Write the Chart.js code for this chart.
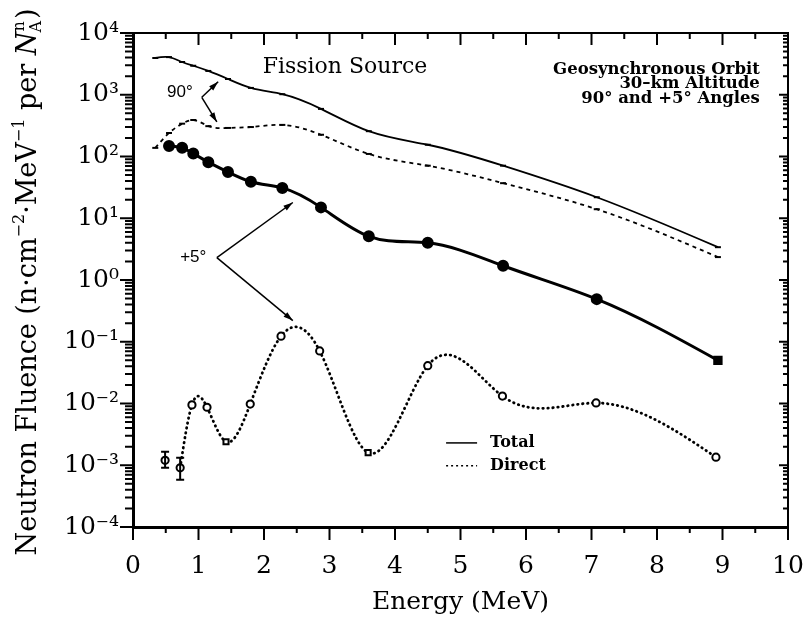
<!DOCTYPE html>
<html>
<head>
<meta charset="utf-8">
<script src="https://cdn.jsdelivr.net/npm/chart.js@4"></script>
<style>
  html, body { margin: 0; padding: 0; background: #fff; }
  canvas { display: block; }
</style>
</head>
<body>
<canvas id="chart" width="805" height="624"></canvas>
<script>
// 90° curves (thin): energy in MeV, fluence per MeV
const energy90 = [0.34, 0.55, 0.75, 0.92, 1.15, 1.45, 1.8, 2.28, 2.87, 3.6, 4.5, 5.65, 7.08, 8.93];
const total90 = [3940, 4070, 3390, 2950, 2430, 1800, 1290, 1020, 590, 257, 155, 71, 21.9, 3.4];
const direct90 = [138, 240, 340, 390, 310, 290, 300, 325, 225, 110, 71, 37, 14, 2.35];

// +5° total (thick, filled markers)
const energy5 = [0.55, 0.75, 0.92, 1.15, 1.45, 1.8, 2.28, 2.87, 3.6, 4.5, 5.65, 7.08, 8.93];
const total5 = [148, 138, 112, 81, 56, 39, 31, 15, 5.1, 4.0, 1.7, 0.49, 0.05];

// +5° direct (dotted, open markers) with error bars on the two lowest energies
const energy5d = [0.49, 0.72, 0.9, 1.13, 1.42, 1.79, 2.26, 2.85, 3.59, 4.5, 5.64, 7.07, 8.9];
const direct5 = [1.2e-3, 9.1e-4, 9.5e-3, 8.7e-3, 2.4e-3, 9.8e-3, 0.123, 0.071, 1.6e-3, 0.041, 0.0132, 0.0102, 1.35e-3];
const direct5Low = [9.1e-4, 5.8e-4, null, null, null, null, null, null, null, null, null, null, null];
const direct5High = [1.66e-3, 1.32e-3, null, null, null, null, null, null, null, null, null, null, null];

// axis tick positions
const xTickValues = [0, 0.5, 1, 1.5, 2, 2.5, 3, 3.5, 4, 4.5, 5, 5.5, 6, 6.5, 7, 7.5, 8, 8.5, 9, 9.5, 10];
const yTickValues = [1e-4, 1e-3, 1e-2, 1e-1, 1, 10, 100, 1e3, 1e4];
const yMinorSteps = [2, 3, 4, 5, 6, 7, 8, 9];
const supDigits = { '-': '⁻', '0': '⁰', '1': '¹', '2': '²', '3': '³', '4': '⁴', '5': '⁵', '6': '⁶', '7': '⁷', '8': '⁸', '9': '⁹' };

const SERIF = '"DejaVu Serif", "Liberation Serif", serif';
const SANS = '"Liberation Sans", Arial, sans-serif';

Chart.defaults.font.family = SERIF;
Chart.defaults.color = '#000';

const toXY = (xs, ys) => xs.map((x, i) => ({ x, y: ys[i] }));

// Text and arrows placed in data coordinates (energy, fluence)
const notes = [
  { text: 'Fission Source', x: 1.98, y: 2800, font: '22px ' + SERIF, align: 'left' },
  { text: 'Geosynchronous Orbit', x: 9.57, y: 2190, font: 'bold 16.5px ' + SERIF, align: 'right', base: 'alphabetic' },
  { text: '30–km Altitude', x: 9.57, y: 1290, font: 'bold 16.5px ' + SERIF, align: 'right', base: 'alphabetic' },
  { text: '90° and +5° Angles', x: 9.57, y: 740, font: 'bold 16.5px ' + SERIF, align: 'right', base: 'alphabetic' },
  { text: '90°', x: 0.52, y: 1100, font: '17px ' + SANS, align: 'left' },
  { text: '+5°', x: 0.72, y: 2.3, font: '17px ' + SANS, align: 'left' },
];
const arrows = [
  { from: [1.05, 910], to: [1.30, 1620] },
  { from: [1.05, 910], to: [1.28, 363] },
  { from: [1.28, 2.3], to: [2.44, 18] },
  { from: [1.28, 2.3], to: [2.44, 0.22] },
];
const legendRows = [
  { label: 'Total', x: 4.78, y: 2.3e-3, dash: [] },
  { label: 'Direct', x: 4.78, y: 9.8e-4, dash: [2, 3] },
];

// natural cubic spline through the points (pixel space), written into the
// bezier control points the line element draws with
const naturalSpline = {
  id: 'naturalSpline',
  beforeDatasetDraw(chart, args) {
    const ds = chart.data.datasets[args.index];
    if (ds.splineFrom === undefined) return;
    const pts = args.meta.data.slice(ds.splineFrom);
    const n = pts.length;
    if (n < 3) return;
    const xs = pts.map((p) => p.x);
    const ys = pts.map((p) => p.y);
    const h = [];
    for (let i = 0; i < n - 1; i++) h.push(xs[i + 1] - xs[i]);
    const lo = [], di = [], up = [], rhs = [];
    for (let i = 1; i < n - 1; i++) {
      lo.push(h[i - 1]);
      di.push(2 * (h[i - 1] + h[i]));
      up.push(h[i]);
      rhs.push(6 * ((ys[i + 1] - ys[i]) / h[i] - (ys[i] - ys[i - 1]) / h[i - 1]));
    }
    const m = di.length;
    for (let i = 1; i < m; i++) {
      const w = lo[i] / di[i - 1];
      di[i] -= w * up[i - 1];
      rhs[i] -= w * rhs[i - 1];
    }
    const M = new Array(n).fill(0);
    for (let i = m - 1; i >= 0; i--) {
      M[i + 1] = (rhs[i] - (i < m - 1 ? up[i] * M[i + 2] : 0)) / di[i];
    }
    pts.forEach((p, i) => {
      const s = i < n - 1
        ? (ys[i + 1] - ys[i]) / h[i] - h[i] * (2 * M[i] + M[i + 1]) / 6
        : (ys[i] - ys[i - 1]) / h[i - 1] + h[i - 1] * (M[i - 1] + 2 * M[i]) / 6;
      const hb = i > 0 ? h[i - 1] : 0;
      const ha = i < n - 1 ? h[i] : 0;
      p.cp1x = p.x - hb / 3;
      p.cp1y = p.y - (s * hb) / 3;
      p.cp2x = p.x + ha / 3;
      p.cp2y = p.y + (s * ha) / 3;
    });
    args.meta.dataset._pointsUpdated = true;
  },
};

// error bars on the +5° direct points and the frame tick marks
// (outward on bottom/left, inward on top/right), stroked as one path
const frameMarks = {
  id: 'frameMarks',
  afterDatasetsDraw(chart) {
    const { ctx, chartArea: a, scales: { x, y } } = chart;
    ctx.save();
    ctx.setLineDash([]);
    ctx.strokeStyle = '#000';
    ctx.lineWidth = 2;
    ctx.beginPath();
    energy5d.forEach((e, i) => {
      if (direct5Low[i] == null) return;
      const px = x.getPixelForValue(e);
      const y1 = y.getPixelForValue(direct5Low[i]);
      const y2 = y.getPixelForValue(direct5High[i]);
      ctx.moveTo(px, y1); ctx.lineTo(px, y2);
      ctx.moveTo(px - 4, y1); ctx.lineTo(px + 4, y1);
      ctx.moveTo(px - 4, y2); ctx.lineTo(px + 4, y2);
    });
    xTickValues.forEach((v) => {
      const px = x.getPixelForValue(v);
      const major = Number.isInteger(v);
      ctx.moveTo(px, a.bottom);
      ctx.lineTo(px, a.bottom + (major ? 13 : 6));
      ctx.moveTo(px, a.top);
      ctx.lineTo(px, a.top + (major ? 12 : 6));
    });
    yTickValues.forEach((d, k) => {
      const py = y.getPixelForValue(d);
      ctx.moveTo(a.left - 13, py);
      ctx.lineTo(a.left, py);
      ctx.moveTo(a.right - 9, py);
      ctx.lineTo(a.right, py);
      if (k === yTickValues.length - 1) return;
      yMinorSteps.forEach((s) => {
        const pm = y.getPixelForValue(d * s);
        ctx.moveTo(a.left - 8, pm);
        ctx.lineTo(a.left, pm);
        ctx.moveTo(a.right - 5, pm);
        ctx.lineTo(a.right, pm);
      });
    });
    ctx.stroke();
    ctx.restore();
  },
};

// y axis title with superscripts and the stacked N_A^n
const yTitle = {
  id: 'yTitle',
  afterDraw(chart) {
    const { ctx, chartArea: a } = chart;
    const big = '27px ' + SERIF;
    const small = '16px ' + SERIF;
    const runs = [
      { t: 'Neutron Fluence (n·cm', f: big },
      { t: '−2', f: small, dy: -12 },
      { t: '·MeV', f: big },
      { t: '−1', f: small, dy: -12 },
      { t: ' per ', f: big },
      { t: 'N', f: 'italic ' + big },
      { t: 'n', f: small, dy: -12, sub: 'A' },
      { t: ')', f: big },
    ];
    ctx.save();
    let total = 0;
    runs.forEach((r) => {
      ctx.font = r.f;
      r.w = ctx.measureText(r.t).width;
      if (r.sub) r.w = Math.max(r.w, ctx.measureText(r.sub).width) + 1;
      total += r.w;
    });
    ctx.translate(36, (a.top + a.bottom) / 2 + 2);
    ctx.rotate(-Math.PI / 2);
    ctx.fillStyle = '#000';
    ctx.textBaseline = 'alphabetic';
    let cx = -total / 2;
    runs.forEach((r) => {
      ctx.font = r.f;
      ctx.fillText(r.t, cx, r.dy || 0);
      if (r.sub) ctx.fillText(r.sub, cx - 1, 5);
      cx += r.w;
    });
    ctx.restore();
  },
};

function drawArrow(ctx, x0, y0, x1, y1) {
  const ang = Math.atan2(y1 - y0, x1 - x0);
  ctx.beginPath();
  ctx.moveTo(x0, y0);
  ctx.lineTo(x1, y1);
  ctx.stroke();
  ctx.beginPath();
  ctx.moveTo(x1, y1);
  ctx.lineTo(x1 - 10 * Math.cos(ang - 0.3), y1 - 10 * Math.sin(ang - 0.3));
  ctx.lineTo(x1 - 10 * Math.cos(ang + 0.3), y1 - 10 * Math.sin(ang + 0.3));
  ctx.closePath();
  ctx.fill();
}

// labels, arrows and the line-style key
const annotations = {
  id: 'annotations',
  afterDraw(chart) {
    const { ctx, scales: { x, y } } = chart;
    ctx.save();
    ctx.setLineDash([]);
    ctx.fillStyle = '#000';
    ctx.strokeStyle = '#000';
    notes.forEach((n) => {
      ctx.font = n.font;
      ctx.textAlign = n.align;
      ctx.textBaseline = n.base || 'middle';
      ctx.fillText(n.text, x.getPixelForValue(n.x), y.getPixelForValue(n.y));
    });
    ctx.lineWidth = 1.5;
    arrows.forEach((ar) => {
      drawArrow(ctx,
        x.getPixelForValue(ar.from[0]), y.getPixelForValue(ar.from[1]),
        x.getPixelForValue(ar.to[0]), y.getPixelForValue(ar.to[1]));
    });
    ctx.font = 'bold 16px ' + SERIF;
    ctx.textAlign = 'left';
    ctx.textBaseline = 'middle';
    legendRows.forEach((r) => {
      const px = x.getPixelForValue(r.x);
      const py = y.getPixelForValue(r.y);
      ctx.setLineDash(r.dash);
      ctx.lineWidth = 1.5;
      ctx.beginPath();
      ctx.moveTo(px, py);
      ctx.lineTo(px + 31, py);
      ctx.stroke();
      ctx.setLineDash([]);
      ctx.fillText(r.label, px + 44, py);
    });
    ctx.restore();
  },
};

const pow10Label = (v) => {
  if (!yTickValues.some((t) => Math.abs(t - v) / t < 1e-6)) return '';
  const exp = String(Math.round(Math.log10(v)));
  return '10' + exp.split('').map((c) => supDigits[c]).join('');
};

// hidden tick marks only push the labels away from the axis
const spacerGrid = (len) => ({
  display: true,
  drawOnChartArea: false,
  drawTicks: true,
  tickLength: len,
  tickColor: 'rgba(0,0,0,0)',
});

new Chart(document.getElementById('chart').getContext('2d'), {
  type: 'line',
  data: {
    datasets: [
      {
        label: '90° Total',
        data: toXY(energy90, total90),
        splineFrom: 0,
        borderColor: '#000',
        borderWidth: 1.8,
        tension: 0.4,
        pointStyle: 'line',
        pointRadius: 3,
        pointBorderWidth: 2,
        pointBorderColor: '#000',
      },
      {
        label: '90° Direct',
        data: toXY(energy90, direct90),
        splineFrom: 0,
        borderColor: '#000',
        borderWidth: 1.8,
        borderDash: [4, 4],
        tension: 0.4,
        pointStyle: 'line',
        pointRadius: 3,
        pointBorderWidth: 2,
        pointBorderColor: '#000',
      },
      {
        label: '+5° Total',
        data: toXY(energy5, total5),
        splineFrom: 0,
        borderColor: '#000',
        borderWidth: 3,
        tension: 0.3,
        pointStyle: energy5.map((e, i) => (i === energy5.length - 1 ? 'rect' : 'circle')),
        pointRadius: 4.5,
        pointBackgroundColor: '#000',
        pointBorderColor: '#000',
      },
      {
        label: '+5° Direct',
        data: toXY(energy5d, direct5),
        splineFrom: 1,
        borderColor: '#000',
        borderWidth: 2.8,
        borderDash: [0.5, 4.5],
        borderCapStyle: 'round',
        tension: 0.4,
        segment: {
          borderColor: (c) => (c.p0DataIndex === 0 ? 'rgba(0,0,0,0)' : '#000'),
        },
        pointStyle: energy5d.map((e, i) => (i === 4 || i === 8 ? 'rect' : 'circle')),
        pointRadius: 3.6,
        pointBorderWidth: 2,
        pointBackgroundColor: '#fff',
        pointBorderColor: '#000',
      },
    ],
  },
  options: {
    responsive: false,
    animation: false,
    layout: { padding: 0 },
    plugins: {
      legend: { display: false },
      tooltip: { enabled: false },
    },
    scales: {
      x: {
        type: 'linear',
        position: 'bottom',
        min: 0,
        max: 10,
        grid: spacerGrid(24),
        border: { display: true, width: 3, color: '#000' },
        ticks: {
          stepSize: 0.5,
          autoSkip: false,
          maxRotation: 0,
          padding: 0,
          font: { size: 25 },
          callback: (v) => (Number.isInteger(v) ? String(v) : ''),
        },
        title: {
          display: true,
          text: 'Energy (MeV)',
          font: { size: 25 },
          padding: { top: 0, bottom: 7 },
        },
        afterFit: (s) => { s.height = 97; },
      },
      x2: {
        type: 'linear',
        position: 'top',
        min: 0,
        max: 10,
        grid: { display: false },
        border: { display: true, width: 2, color: '#000' },
        ticks: { display: false, padding: 0 },
        afterFit: (s) => { s.height = 33; },
      },
      y: {
        type: 'logarithmic',
        position: 'left',
        min: 1e-4,
        max: 1e4,
        grid: spacerGrid(14),
        border: { display: true, width: 3, color: '#000' },
        ticks: {
          autoSkip: false,
          padding: 0,
          font: { size: 25 },
          callback: pow10Label,
        },
        afterFit: (s) => { s.width = 133; },
      },
      y2: {
        type: 'logarithmic',
        position: 'right',
        min: 1e-4,
        max: 1e4,
        grid: { display: false },
        border: { display: true, width: 2, color: '#000' },
        ticks: { display: false, padding: 0 },
        afterFit: (s) => { s.width = 17; },
      },
    },
  },
  plugins: [naturalSpline, frameMarks, yTitle, annotations],
});
</script>
</body>
</html>
